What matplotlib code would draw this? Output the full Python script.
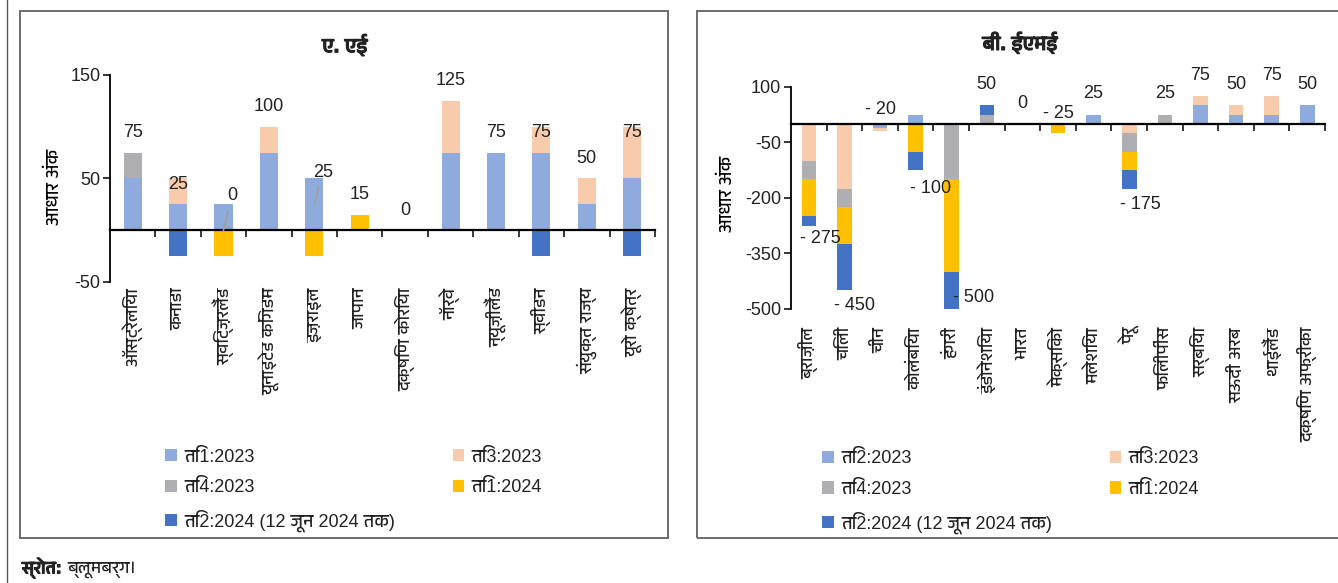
import numpy as np
import matplotlib
matplotlib.use('Agg')
import matplotlib.pyplot as plt
import matplotlib.patheffects as pe
from matplotlib import font_manager
from matplotlib.patches import Patch, Rectangle
from matplotlib.lines import Line2D

# 1. Data - panel A (advanced economies), basis points per quarter
ae_countries = ['ऑस्ट्रेलिया', 'कनाडा', 'स्विट्ज़रलैंड', 'यूनाइटेड किंगडम', 'इज़राइल', 'जापान',
                'दक्षिण कोरिया', 'नॉर्वे', 'न्यूज़ीलैंड', 'स्वीडन', 'संयुक्त राज्य', 'यूरो क्षेत्र']
ae_q1_23 = [50, 25, 25, 75, 50, 0, 0, 75, 75, 75, 25, 50]
ae_q3_23 = [0, 25, 0, 25, 0, 0, 0, 50, 0, 25, 25, 50]
ae_q4_23 = [25, 0, 0, 0, 0, 0, 0, 0, 0, 0, 0, 0]
ae_q1_24 = [0, 0, -25, 0, -25, 15, 0, 0, 0, 0, 0, 0]
ae_q2_24 = [0, -25, 0, 0, 0, 0, 0, 0, 0, -25, 0, -25]
ae_labels = ['ति1:2023', 'ति3:2023', 'ति4:2023', 'ति1:2024', 'ति2:2024 (12 जून 2024 तक)']

# Data - panel B (emerging market economies)
eme_countries = ['ब्राज़ील', 'चिली', 'चीन', 'कोलंबिया', 'हंगरी', 'इंडोनेशिया', 'भारत', 'मेक्सिको',
                 'मलेशिया', 'पेरू', 'फिलीपींस', 'सर्बिया', 'सऊदी अरब', 'थाईलैंड', 'दक्षिण अफ्रीका']
eme_q2_23 = [0, 0, -10, 25, 0, 0, 0, 0, 25, 0, 0, 50, 25, 25, 50]
eme_q3_23 = [-100, -175, -10, 0, 0, 0, 0, 0, 0, -25, 0, 25, 25, 50, 0]
eme_q4_23 = [-50, -50, 0, 0, -150, 25, 0, 0, 0, -50, 25, 0, 0, 0, 0]
eme_q1_24 = [-100, -100, 0, -75, -250, 0, 0, -25, 0, -50, 0, 0, 0, 0, 0]
eme_q2_24 = [-25, -125, 0, -50, -100, 25, 0, 0, 0, -50, 0, 0, 0, 0, 0]
eme_labels = ['ति2:2023', 'ति3:2023', 'ति4:2023', 'ति1:2024', 'ति2:2024 (12 जून 2024 तक)']

colors = ['#8FAADC', '#F8CBAD', '#AFAFB3', '#FFC000', '#4472C4']


# 2. Fonts: a latin face for digits, then an installed face that covers Devanagari
def devanagari_family():
    found = set()
    for f in font_manager.fontManager.ttflist:
        try:
            if 0x0915 in font_manager.get_font(f.fname).get_charmap():
                found.add(f.name)
        except Exception:
            pass
    ranked = sorted(found, key=lambda n: ('Mono' in n, 'Serif' in n, 'Devanagari' not in n, n))
    return ranked[0] if ranked else None


installed = {f.name for f in font_manager.fontManager.ttflist}
families = [n for n in ['Liberation Sans Narrow', 'Liberation Sans'] if n in installed][:1]
deva = devanagari_family()
if deva:
    families.append(deva)
families.append('DejaVu Sans')
plt.rcParams['font.family'] = families
plt.rcParams['text.color'] = '#222222'
plt.rcParams['axes.unicode_minus'] = False

# the Devanagari face has no bold weight, so thicken strokes instead
heavy = [pe.withStroke(linewidth=0.9, foreground='#222222')]


def stacked_bars(ax, series, width):
    n = len(series[0])
    x = np.arange(n)
    pos = np.zeros(n)
    neg = np.zeros(n)
    for vals, c in zip(series, colors):
        v = np.array(vals, dtype=float)
        ax.bar(x, v, width, bottom=np.where(v >= 0, pos, neg), color=c, zorder=2)
        pos += np.clip(v, 0, None)
        neg += np.clip(v, None, 0)
    return x, np.sum(series, axis=0)


def style_axis(ax, names, yticks, label_gap):
    n = len(names)
    ax.set_xlim(-0.5, n - 0.5)
    ax.set_ylim(yticks[0], yticks[-1])
    ax.set_yticks(yticks)
    for s in ['top', 'right']:
        ax.spines[s].set_visible(False)
    ax.spines['bottom'].set_position(('data', 0))
    ax.spines['bottom'].set_linewidth(1.6)
    ax.spines['bottom'].set_zorder(3)
    ax.spines['left'].set_linewidth(1.3)
    ax.set_xticks(np.arange(n) + 0.5)
    ax.set_xticklabels([])
    ax.tick_params(axis='x', direction='out', length=5, width=1.1)
    ax.tick_params(axis='y', direction='out', length=5, width=1.1, labelsize=13, pad=2,
                   labelcolor='#222222')
    for i, name in enumerate(names):
        ax.annotate(name, xy=(i, 0), xycoords=('data', 'axes fraction'),
                    xytext=(0, -label_gap), textcoords='offset points',
                    rotation=90, ha='center', va='top', fontsize=12.5)
    ax.set_ylabel('आधार अंक', fontsize=13)


def fmt(v):
    return f'- {abs(v):g}' if v < 0 else f'{v:g}'


fig = plt.figure(figsize=(13.38, 5.83), dpi=100)

# panel frames
fig.patches.append(Rectangle((0.0150, 0.0772), 0.4843, 0.9040, transform=fig.transFigure,
                             fill=False, edgecolor='#6E6E6E', linewidth=1.4))
fig.patches.append(Rectangle((0.5209, 0.0772), 0.4800, 0.9040, transform=fig.transFigure,
                             fill=False, edgecolor='#6E6E6E', linewidth=1.4))
fig.lines.append(Line2D([0.0052, 0.0052], [0, 1], transform=fig.transFigure,
                        color='#555555', linewidth=1.0))

# 3. Panel A
ax1 = fig.add_axes([0.0822, 0.5163, 0.4073, 0.3551])
x1, tot1 = stacked_bars(ax1, [ae_q1_23, ae_q3_23, ae_q4_23, ae_q1_24, ae_q2_24], 0.4)
style_axis(ax1, ae_countries, [-50, 50, 150], 4)
ax1.yaxis.set_label_coords(-0.086, 0.46)
ae_nudge = {2: (6, 25), 4: (6, 23)}
for i, t in zip(x1, tot1):
    dx, dy = ae_nudge.get(i, (0, 14.5))
    arrow = dict(arrowstyle='-', color='#A0A0A0', lw=1.2, shrinkA=3, shrinkB=0) if i in ae_nudge else None
    ax1.annotate(fmt(t), xy=(i, t), xytext=(dx, dy), textcoords='offset points',
                 ha='center', va='center', fontsize=13, arrowprops=arrow, zorder=4)
fig.text(0.2578, 0.922, 'ए. एई', ha='center', va='center', fontsize=14.5, fontweight='bold',
         path_effects=heavy)

# 4. Panel B
ax2 = fig.add_axes([0.5912, 0.4700, 0.3991, 0.3808])
x2, tot2 = stacked_bars(ax2, [eme_q2_23, eme_q3_23, eme_q4_23, eme_q1_24, eme_q2_24], 0.41)
style_axis(ax2, eme_countries, [-500, -350, -200, -50, 100], 13)
ax2.yaxis.set_label_coords(-0.103, 0.52)
eme_nudge = {0: (8, -9), 1: (7, -10.5), 2: (0, 16), 3: (10.5, -20), 4: (16, 8), 7: (0, 14.5), 9: (8, -11)}
for i, t in zip(x2, tot2):
    dx, dy = eme_nudge.get(i, (0, 15))
    ax2.annotate(fmt(t), xy=(i, t), xytext=(dx, dy), textcoords='offset points',
                 ha='center', va='center', fontsize=13, zorder=4)
fig.text(0.7623, 0.926, 'बी. ईएमई', ha='center', va='center', fontsize=14.5, fontweight='bold',
         path_effects=heavy)

# 5. Legends (column-first fill, so reorder to read row by row)
order = [0, 2, 4, 1, 3]
for labels, anchor in [(ae_labels, (0.118, 0.243)), (eme_labels, (0.609, 0.240))]:
    handles = [Patch(facecolor=colors[k], label=labels[k]) for k in order]
    fig.legend(handles=handles, loc='upper left', bbox_to_anchor=anchor, ncol=2,
               frameon=False, fontsize=13, handlelength=0.65, handleheight=0.65,
               handletextpad=0.4, labelspacing=0.75, columnspacing=3.2, borderaxespad=0)

# source line: bold lead-in, then the name right after it
src = fig.text(0.0165, 0.008, 'स्रोत:', fontsize=12.5, fontweight='bold', va='bottom',
               path_effects=heavy)
fig.canvas.draw()
x_end = src.get_window_extent().x1 / fig.bbox.width
fig.text(x_end + 0.004, 0.008, 'ब्लूमबर्ग।', fontsize=12.5, va='bottom')

fig.savefig('out.png', dpi=100)
